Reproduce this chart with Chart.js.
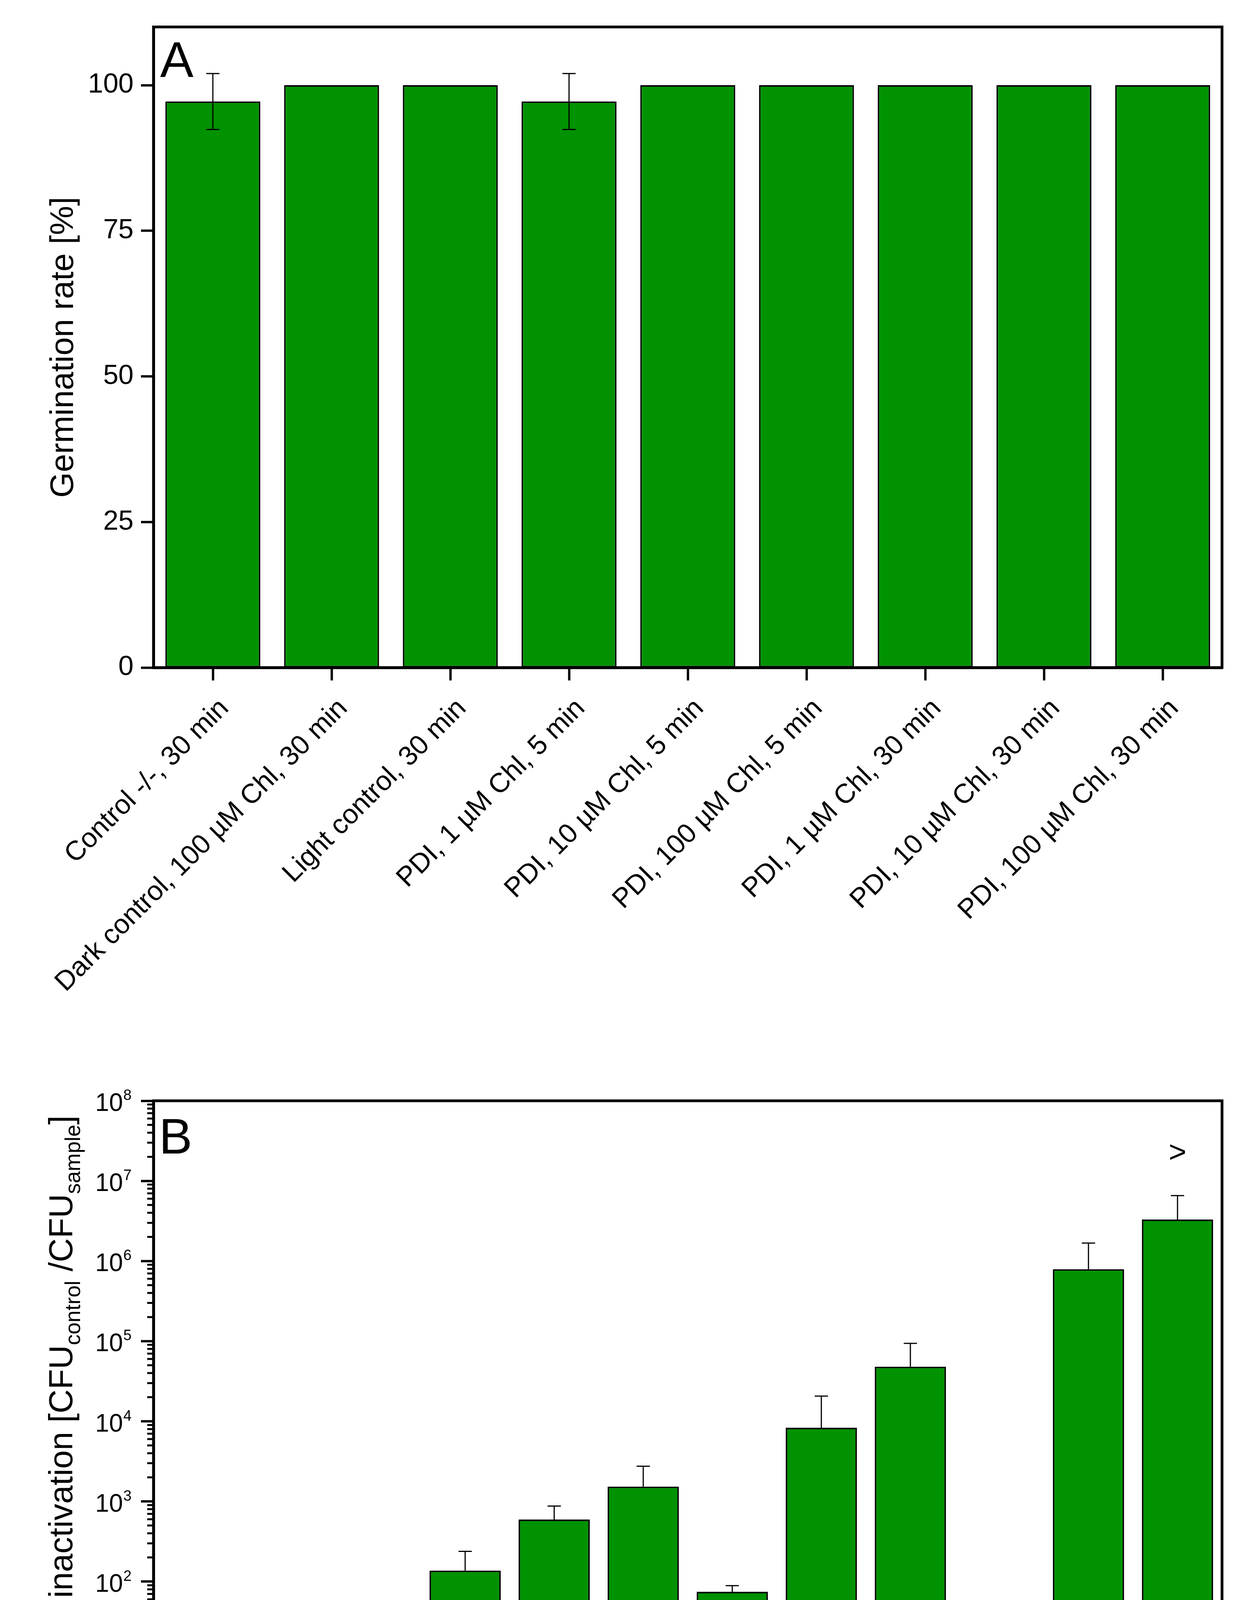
<!DOCTYPE html>
<html>
<head>
<meta charset="utf-8">
<script src="https://cdn.jsdelivr.net/npm/chart.js@4/dist/chart.umd.min.js"></script>
<style>
  html, body { margin: 0; padding: 0; background: #fff; }
  canvas { display: block; }
</style>
</head>
<body>
<canvas id="chartA" width="3175" height="2700"></canvas>
<canvas id="chartB" width="3175" height="2719"></canvas>
<script>
// panel A: germination rate
const labelsA = [
  'Control -/-, 30 min',
  'Dark control, 100 µM Chl, 30 min',
  'Light control, 30 min',
  'PDI, 1 µM Chl, 5 min',
  'PDI, 10 µM Chl, 5 min',
  'PDI, 100 µM Chl, 5 min',
  'PDI, 1 µM Chl, 30 min',
  'PDI, 10 µM Chl, 30 min',
  'PDI, 100 µM Chl, 30 min'
];
const germination = [97.2, 100, 100, 97.2, 100, 100, 100, 100, 100];
const germinationErr = [4.8, 0, 0, 4.8, 0, 0, 0, 0, 0];
const ticksA = [0, 25, 50, 75, 100];

// panel B: relative inactivation (log scale)
const labelsB = labelsA.concat([
  'Supernatant Control -/-, 30 min',
  'Supernatant PDI, 10 µM Chl, 30 min',
  'Supernatant PDI, 100 µM Chl, 30 min'
]);
const inactivation = [1, 3.0, 7.7, 137, 595, 1530, 74.5, 8300, 48000, 1, 790000, 3300000];
const inactivationErr = [0, 2.6, 10.9, 101, 280, 1220, 14.3, 12300, 46000, 0, 885000, 3250000];
const decadesB = [0, 1, 2, 3, 4, 5, 6, 7, 8];
const notesB = ['', '', '', '', '', '', '', '', '', '', '', '>'];

const GREEN = '#009200';
const FONT = '"Liberation Sans", Arial, Helvetica, sans-serif';
Chart.defaults.font.family = FONT;
Chart.defaults.color = '#000';

function drawFrame(chart) {
  const { ctx, chartArea: a } = chart;
  ctx.save();
  ctx.strokeStyle = '#000';
  ctx.lineWidth = 7;
  ctx.strokeRect(a.left, a.top, a.right - a.left, a.bottom - a.top);
  ctx.restore();
}

function drawErrors(chart, errs, both) {
  const { ctx } = chart;
  const y = chart.scales.y;
  const vals = chart.data.datasets[0].data;
  const meta = chart.getDatasetMeta(0);
  ctx.save();
  ctx.strokeStyle = '#000';
  ctx.lineWidth = 3;
  meta.data.forEach((bar, i) => {
    if (!errs[i]) return;
    const top = y.getPixelForValue(vals[i] + errs[i]);
    const bot = both ? y.getPixelForValue(vals[i] - errs[i]) : bar.y;
    ctx.beginPath();
    ctx.moveTo(bar.x, bot);
    ctx.lineTo(bar.x, top);
    ctx.moveTo(bar.x - 17, top);
    ctx.lineTo(bar.x + 17, top);
    if (both) {
      ctx.moveTo(bar.x - 17, bot);
      ctx.lineTo(bar.x + 17, bot);
    }
    ctx.stroke();
  });
  ctx.restore();
}

function drawRotatedRuns(ctx, runs, x, cy) {
  ctx.save();
  ctx.translate(x, cy);
  ctx.rotate(-Math.PI / 2);
  ctx.fillStyle = '#000';
  ctx.textAlign = 'left';
  ctx.textBaseline = 'alphabetic';
  let total = 0;
  runs.forEach(r => {
    ctx.font = r.size + 'px ' + FONT;
    r.w = ctx.measureText(r.text).width;
    total += r.w;
  });
  let pos = -total / 2;
  runs.forEach(r => {
    ctx.font = r.size + 'px ' + FONT;
    ctx.fillText(r.text, pos, r.shift || 0);
    pos += r.w;
  });
  ctx.restore();
}

function drawLetter(ctx, text, x, y) {
  ctx.save();
  ctx.fillStyle = '#000';
  ctx.font = '128px ' + FONT;
  ctx.textAlign = 'left';
  ctx.textBaseline = 'alphabetic';
  ctx.fillText(text, x, y);
  ctx.restore();
}

const decoA = {
  id: 'decoA',
  afterDraw(chart) {
    const { ctx, chartArea: a } = chart;
    drawFrame(chart);
    drawErrors(chart, germinationErr, true);
    drawRotatedRuns(ctx, [{ text: 'Germination rate [%]', size: 84 }], 187, (a.top + a.bottom) / 2);
    drawLetter(ctx, 'A', a.left + 17, a.top + 128);
  }
};

const decoB = {
  id: 'decoB',
  afterDraw(chart) {
    const { ctx, chartArea: a } = chart;
    const y = chart.scales.y;
    drawFrame(chart);

    // minor ticks on the log axis
    ctx.save();
    ctx.strokeStyle = '#000';
    ctx.lineWidth = 5;
    ctx.beginPath();
    decadesB.slice(0, -1).forEach(e => {
      for (let k = 2; k <= 9; k++) {
        const py = y.getPixelForValue(k * Math.pow(10, e));
        ctx.moveTo(a.left - 16, py);
        ctx.lineTo(a.left - 3, py);
      }
    });
    ctx.stroke();
    ctx.restore();

    // 10^n tick labels
    ctx.save();
    ctx.fillStyle = '#000';
    ctx.textAlign = 'right';
    ctx.textBaseline = 'alphabetic';
    decadesB.forEach(e => {
      const py = y.getPixelForValue(Math.pow(10, e));
      const right = a.left - 56;
      ctx.font = '38px ' + FONT;
      const w = ctx.measureText(String(e)).width;
      ctx.fillText(String(e), right, py - 2);
      ctx.font = '64px ' + FONT;
      ctx.fillText('10', right - w - 1, py + 26);
    });
    ctx.restore();

    drawErrors(chart, inactivationErr, false);

    // marks above bars
    const meta = chart.getDatasetMeta(0);
    ctx.save();
    ctx.fillStyle = '#000';
    ctx.font = '78px ' + FONT;
    ctx.textAlign = 'center';
    ctx.textBaseline = 'middle';
    meta.data.forEach((bar, i) => {
      if (!notesB[i]) return;
      const top = y.getPixelForValue(inactivation[i] + inactivationErr[i]);
      ctx.fillText(notesB[i], bar.x, top - 107);
    });
    ctx.restore();

    drawRotatedRuns(ctx, [
      { text: 'Relative inactivation [CFU', size: 85 },
      { text: 'control', size: 55, shift: 20 },
      { text: ' /CFU', size: 85 },
      { text: 'sample', size: 55, shift: 20 },
      { text: ']', size: 85 }
    ], 185, (a.top + a.bottom) / 2);
    drawLetter(ctx, 'B', a.left + 14, a.top + 135);
  }
};

function xAxis(height, italic, padding, offset) {
  return {
    grid: { offset: false, drawOnChartArea: false, tickLength: 33, tickWidth: 6, tickColor: '#000' },
    border: { width: 7, color: '#000' },
    ticks: {
      color: '#000',
      font: { size: 70, style: italic ? 'italic' : 'normal' },
      maxRotation: 45, minRotation: 45, autoSkip: false,
      padding: padding, labelOffset: offset
    },
    afterFit(s) { s.height = height; s.paddingLeft = 0; s.paddingRight = 0; }
  };
}

new Chart(document.getElementById('chartA'), {
  type: 'bar',
  data: {
    labels: labelsA,
    datasets: [{
      data: germination,
      backgroundColor: GREEN,
      borderColor: '#000',
      borderWidth: 4,
      borderSkipped: false,
      barPercentage: 0.8,
      categoryPercentage: 1.0
    }]
  },
  options: {
    responsive: false,
    animation: false,
    devicePixelRatio: 1,
    layout: { padding: { top: 69, right: 46, left: 0, bottom: 0 } },
    plugins: { legend: { display: false }, tooltip: { enabled: false } },
    scales: {
      x: xAxis(991, false, 31, 30),
      y: {
        min: 0,
        max: 110,
        afterBuildTicks(s) { s.ticks = ticksA.map(v => ({ value: v })); },
        grid: { drawOnChartArea: false, tickLength: 32, tickWidth: 6, tickColor: '#000' },
        border: { width: 7, color: '#000' },
        ticks: { color: '#000', font: { size: 70 }, padding: 19 },
        afterFit(s) { s.width = 393; s.paddingTop = 0; s.paddingBottom = 0; }
      }
    }
  },
  plugins: [decoA]
});

new Chart(document.getElementById('chartB'), {
  type: 'bar',
  data: {
    labels: labelsB,
    datasets: [{
      data: inactivation,
      backgroundColor: GREEN,
      borderColor: '#000',
      borderWidth: 4,
      borderSkipped: false,
      barPercentage: 0.8,
      categoryPercentage: 1.0
    }]
  },
  options: {
    responsive: false,
    animation: false,
    devicePixelRatio: 1,
    layout: { padding: { top: 118, right: 46, left: 0, bottom: 0 } },
    plugins: { legend: { display: false }, tooltip: { enabled: false } },
    scales: {
      x: xAxis(960, true, 35, 28),
      y: {
        type: 'logarithmic',
        min: 1,
        max: 1e8,
        afterBuildTicks(s) { s.ticks = decadesB.map(e => ({ value: Math.pow(10, e), major: true })); },
        grid: { drawOnChartArea: false, tickLength: 32, tickWidth: 6, tickColor: '#000' },
        border: { width: 7, color: '#000' },
        ticks: { display: false },
        afterFit(s) { s.width = 393; s.paddingTop = 0; s.paddingBottom = 0; }
      }
    }
  },
  plugins: [decoB]
});
</script>
</body>
</html>
